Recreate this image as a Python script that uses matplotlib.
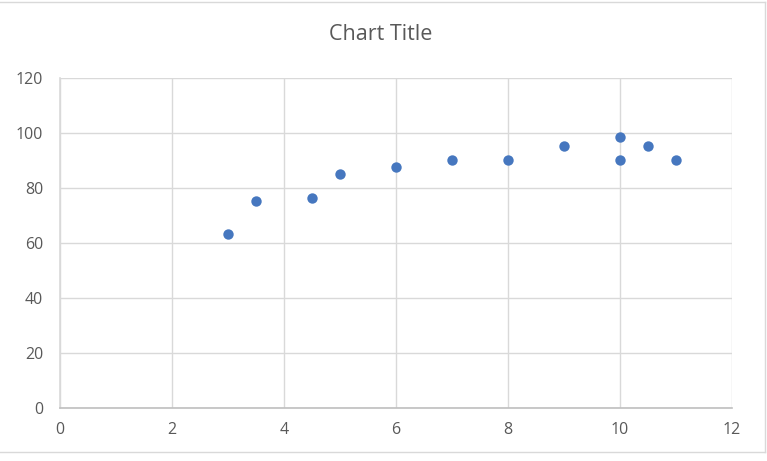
import matplotlib.pyplot as plt

# data
x_vals = [3, 3.5, 4.5, 5, 6, 7, 8, 9, 10, 10, 10.5, 11]
y_vals = [63.3, 75.3, 76.4, 85.1, 87.5, 90.2, 90.2, 95.3, 98.5, 90.2, 95.3, 90.2]
x_ticks = [0, 2, 4, 6, 8, 10, 12]
y_ticks = [0, 20, 40, 60, 80, 100, 120]

plt.rcParams['font.family'] = ['Open Sans', 'DejaVu Sans']
text_col = '#595959'
grid_col = '#d9d9d9'

W, H = 767, 461
fig = plt.figure(figsize=(W / 100, H / 100), dpi=100)
ax = fig.add_axes([60 / W, (H - 408) / H, (732 - 60) / W, (408 - 78) / H])

ax.scatter(x_vals, y_vals, s=56, color='#4677BF', zorder=3, linewidths=0)

ax.set_xlim(0, 12)
ax.set_ylim(0, 120)
ax.set_xticks(x_ticks)
ax.set_yticks(y_ticks)
ax.grid(True, color=grid_col, linewidth=1)
ax.set_axisbelow(True)
for side in ['top', 'right']:
    ax.spines[side].set_visible(False)
ax.spines['left'].set_color(grid_col)
ax.spines['bottom'].set_color('#bfbfbf')
ax.spines['left'].set_linewidth(1.2)
ax.spines['bottom'].set_linewidth(1.2)
ax.tick_params(length=0, labelsize=11.5, labelcolor=text_col)
ax.tick_params(axis='x', pad=10)
ax.tick_params(axis='y', pad=12)

fig.text(381 / W, 1 - 34 / H, 'Chart Title', ha='center', va='center',
         fontsize=15.5, color=text_col)

# chart area border
fig.add_artist(plt.Line2D([0, 765 / W], [1 - 2 / H, 1 - 2 / H], color='#d9d9d9', lw=1))
fig.add_artist(plt.Line2D([765 / W, 765 / W], [1 - 2 / H, 1 - 452 / H], color='#d9d9d9', lw=1))
fig.add_artist(plt.Line2D([0, 765 / W], [1 - 452 / H, 1 - 452 / H], color='#d9d9d9', lw=1))

fig.savefig('out.png', dpi=100)
